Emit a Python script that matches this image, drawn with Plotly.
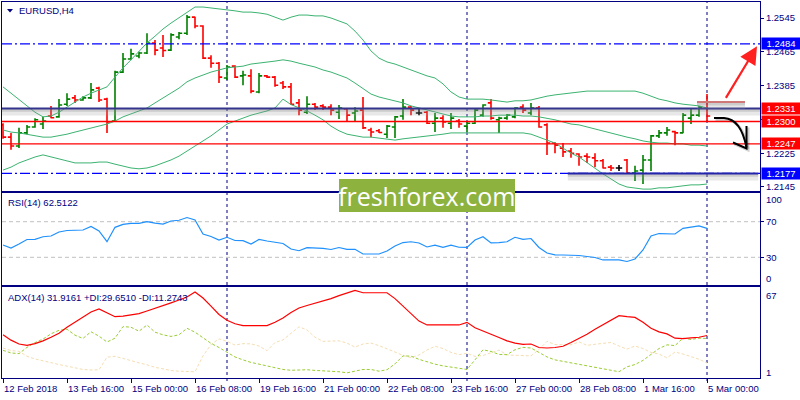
import plotly.graph_objects as go

# ---------------- data ----------------
symbol_title = "EURUSD,H4"
rsi_title = "RSI(14) 62.5122"
adx_title = "ADX(14) 31.9161 +DI:29.6510 -DI:11.2743"

time_labels = ["12 Feb 2018", "13 Feb 16:00", "15 Feb 00:00", "16 Feb 08:00",
               "19 Feb 16:00", "21 Feb 00:00", "22 Feb 08:00", "23 Feb 16:00",
               "27 Feb 00:00", "28 Feb 08:00", "1 Mar 16:00", "5 Mar 00:00"]
label_bars = [0, 8, 16, 24, 32, 40, 48, 56, 64, 72, 80, 88]
week_start_bars = [28, 58, 88]

open_ = [1.2292, 1.2263, 1.2242, 1.2273, 1.2287, 1.2294, 1.2313, 1.2311, 1.2341, 1.2356,
         1.2351, 1.2356, 1.2379, 1.2353, 1.2301, 1.2417, 1.2448, 1.2455, 1.2462, 1.2486,
         1.2474, 1.2469, 1.2500, 1.2509, 1.2547, 1.2526, 1.2450, 1.2438, 1.2403, 1.2431,
         1.2408, 1.2408, 1.2370, 1.2408, 1.2405, 1.2391, 1.2382, 1.2344, 1.2322, 1.2341,
         1.2337, 1.2334, 1.2322, 1.2330, 1.2320, 1.2327, 1.2280, 1.2278, 1.2270, 1.2287,
         1.2313, 1.2334, 1.2320, 1.2322, 1.2296, 1.2308, 1.2296, 1.2301, 1.2289, 1.2296,
         1.2315, 1.2344, 1.2304, 1.2308, 1.2311, 1.2334, 1.2320, 1.2332, 1.2292, 1.2249,
         1.2237, 1.2230, 1.2223, 1.2218, 1.2214, 1.2207, 1.2192, 1.2190, 1.2209, 1.2178,
         1.2185, 1.2209, 1.2266, 1.2273, 1.2276, 1.2273, 1.2308, 1.2315, 1.2332]
high = [1.2296, 1.2273, 1.2285, 1.2292, 1.2308, 1.2311, 1.2337, 1.2353, 1.2367, 1.2363,
        1.2360, 1.2391, 1.2382, 1.2356, 1.2420, 1.2462, 1.2472, 1.2465, 1.2509, 1.2493,
        1.2505, 1.2509, 1.2512, 1.2552, 1.2548, 1.2528, 1.2457, 1.2441, 1.2434, 1.2433,
        1.2420, 1.2424, 1.2415, 1.2410, 1.2408, 1.2396, 1.2391, 1.2353, 1.2360, 1.2344,
        1.2341, 1.2341, 1.2339, 1.2332, 1.2334, 1.2358, 1.2285, 1.2282, 1.2292, 1.2313,
        1.2353, 1.2337, 1.2330, 1.2325, 1.2320, 1.2315, 1.2320, 1.2306, 1.2301, 1.2330,
        1.2341, 1.2353, 1.2311, 1.2318, 1.2334, 1.2341, 1.2344, 1.2337, 1.2296, 1.2251,
        1.2249, 1.2237, 1.2225, 1.2225, 1.2225, 1.2211, 1.2197, 1.2197, 1.2211, 1.2195,
        1.2221, 1.2268, 1.2280, 1.2287, 1.2278, 1.2320, 1.2332, 1.2337, 1.2365]
low = [1.2259, 1.2233, 1.2237, 1.2270, 1.2285, 1.2282, 1.2308, 1.2309, 1.2337, 1.2344,
       1.2349, 1.2353, 1.2346, 1.2273, 1.2299, 1.2415, 1.2446, 1.2450, 1.2460, 1.2457,
       1.2453, 1.2467, 1.2495, 1.2505, 1.2521, 1.2448, 1.2427, 1.2391, 1.2398, 1.2403,
       1.2386, 1.2367, 1.2367, 1.2403, 1.2382, 1.2377, 1.2339, 1.2315, 1.2318, 1.2327,
       1.2327, 1.2315, 1.2306, 1.2299, 1.2299, 1.2282, 1.2263, 1.2273, 1.2261, 1.2261,
       1.2304, 1.2315, 1.2315, 1.2294, 1.2275, 1.2285, 1.2282, 1.2285, 1.2275, 1.2294,
       1.2311, 1.2304, 1.2273, 1.2304, 1.2308, 1.2320, 1.2315, 1.2285, 1.2221, 1.2225,
       1.2216, 1.2214, 1.2195, 1.2202, 1.2192, 1.2189, 1.2183, 1.2183, 1.2177, 1.2159,
       1.2152, 1.2183, 1.2261, 1.2266, 1.2244, 1.2272, 1.2294, 1.2311, 1.2299]
close = [1.2263, 1.2242, 1.2273, 1.2287, 1.2304, 1.2301, 1.2309, 1.2339, 1.2353, 1.2351,
         1.2356, 1.2375, 1.2351, 1.2299, 1.2417, 1.2448, 1.2460, 1.2462, 1.2486, 1.2469,
         1.2468, 1.2505, 1.2509, 1.2547, 1.2526, 1.2450, 1.2438, 1.2405, 1.2429, 1.2405,
         1.2410, 1.2372, 1.2408, 1.2405, 1.2386, 1.2382, 1.2341, 1.2327, 1.2341, 1.2334,
         1.2334, 1.2327, 1.2332, 1.2315, 1.2325, 1.2285, 1.2275, 1.2274, 1.2289, 1.2311,
         1.2334, 1.2327, 1.2320, 1.2296, 1.2308, 1.2299, 1.2308, 1.2294, 1.2296, 1.2327,
         1.2339, 1.2308, 1.2308, 1.2315, 1.2332, 1.2327, 1.2332, 1.2287, 1.2249, 1.2244,
         1.2228, 1.2225, 1.2216, 1.2216, 1.2207, 1.2190, 1.2190, 1.2190, 1.2178, 1.2183,
         1.2209, 1.2266, 1.2273, 1.2280, 1.2273, 1.2315, 1.2315, 1.2334, 1.2313]

bb_upper = [1.2382, 1.2367, 1.2353, 1.2339, 1.2322, 1.2311, 1.2313, 1.2322, 1.2334, 1.2346,
            1.2358, 1.2367, 1.2375, 1.2382, 1.2405, 1.2427, 1.2446, 1.2467, 1.2486, 1.2502,
            1.2519, 1.2533, 1.2545, 1.2557, 1.2571, 1.2571, 1.2569, 1.2566, 1.2564, 1.2562,
            1.2559, 1.2559, 1.2557, 1.2554, 1.2547, 1.2540, 1.2547, 1.2552, 1.2552, 1.2550,
            1.2550, 1.2545, 1.2538, 1.2531, 1.2514, 1.2493, 1.2467, 1.2450, 1.2441, 1.2436,
            1.2429, 1.2422, 1.2415, 1.2408, 1.2403, 1.2389, 1.2370, 1.2358, 1.2353, 1.2353,
            1.2353, 1.2351, 1.2349, 1.2346, 1.2349, 1.2349, 1.2351, 1.2356, 1.2360, 1.2363,
            1.2365, 1.2367, 1.2370, 1.2372, 1.2372, 1.2372, 1.2372, 1.2372, 1.2372, 1.2372,
            1.2367, 1.2360, 1.2353, 1.2349, 1.2344, 1.2341, 1.2339, 1.2337, 1.2332]
bb_middle = [1.2280, 1.2275, 1.2273, 1.2270, 1.2266, 1.2263, 1.2263, 1.2266, 1.2270, 1.2275,
             1.2280, 1.2285, 1.2289, 1.2294, 1.2301, 1.2311, 1.2318, 1.2325, 1.2332, 1.2344,
             1.2356, 1.2367, 1.2379, 1.2394, 1.2403, 1.2410, 1.2417, 1.2422, 1.2427, 1.2429,
             1.2431, 1.2436, 1.2438, 1.2441, 1.2443, 1.2446, 1.2443, 1.2438, 1.2434, 1.2429,
             1.2422, 1.2417, 1.2410, 1.2403, 1.2391, 1.2379, 1.2365, 1.2358, 1.2353, 1.2349,
             1.2344, 1.2337, 1.2332, 1.2327, 1.2322, 1.2318, 1.2313, 1.2311, 1.2311, 1.2311,
             1.2313, 1.2313, 1.2315, 1.2315, 1.2315, 1.2313, 1.2313, 1.2311, 1.2308, 1.2304,
             1.2299, 1.2294, 1.2292, 1.2287, 1.2282, 1.2278, 1.2273, 1.2268, 1.2263, 1.2259,
             1.2254, 1.2251, 1.2249, 1.2249, 1.2247, 1.2247, 1.2244, 1.2244, 1.2242]
bb_lower = [1.2185, 1.2192, 1.2202, 1.2209, 1.2216, 1.2221, 1.2216, 1.2211, 1.2207, 1.2202,
            1.2202, 1.2202, 1.2204, 1.2204, 1.2199, 1.2195, 1.2190, 1.2188, 1.2190, 1.2195,
            1.2202, 1.2209, 1.2218, 1.2230, 1.2240, 1.2254, 1.2266, 1.2280, 1.2294, 1.2301,
            1.2308, 1.2315, 1.2320, 1.2325, 1.2332, 1.2353, 1.2340, 1.2332, 1.2325, 1.2315,
            1.2304, 1.2289, 1.2278, 1.2270, 1.2266, 1.2263, 1.2263, 1.2261, 1.2259, 1.2256,
            1.2259, 1.2261, 1.2263, 1.2266, 1.2268, 1.2270, 1.2273, 1.2273, 1.2273, 1.2273,
            1.2273, 1.2273, 1.2273, 1.2273, 1.2273, 1.2273, 1.2270, 1.2263, 1.2256, 1.2249,
            1.2237, 1.2225, 1.2216, 1.2202, 1.2188, 1.2176, 1.2164, 1.2152, 1.2145, 1.2143,
            1.2140, 1.2140, 1.2143, 1.2143, 1.2145, 1.2147, 1.2150, 1.2150, 1.2152]

rsi = [43.8, 40.4, 44.9, 50.0, 50.2, 53.1, 53.9, 58.4, 60.1, 60.3,
       60.7, 64.6, 59.6, 47.5, 63.7, 66.9, 68.2, 68.2, 70.0, 68.5,
       67.4, 70.8, 71.6, 74.7, 71.9, 56.2, 53.4, 49.4, 52.5, 48.9,
       48.7, 44.9, 50.0, 48.3, 46.6, 45.5, 39.3, 37.4, 40.8, 40.4,
       40.1, 38.8, 41.0, 39.0, 39.0, 33.7, 33.7, 33.7, 37.1, 42.7,
       46.6, 47.5, 46.1, 41.6, 43.6, 41.2, 43.6, 41.3, 41.2, 49.4,
       53.1, 46.1, 46.4, 47.5, 52.5, 50.2, 51.1, 41.0, 34.8, 32.8,
       32.6, 32.6, 32.0, 30.9, 29.8, 27.0, 27.0, 27.0, 25.3, 28.1,
       38.2, 53.9, 56.7, 56.7, 56.2, 62.6, 64.0, 65.2, 62.5122]
adx = [32.4, 28.4, 25.5, 24.5, 25.8, 27.9, 30.6, 33.6, 38.1, 42.1,
       45.5, 49.6, 51.8, 49.2, 46.0, 46.5, 47.3, 48.3, 50.3, 52.2,
       54.4, 56.4, 58.5, 60.8, 64.6, 60.0, 54.0, 47.7, 43.3, 40.7,
       39.3, 39.3, 39.3, 39.3, 41.8, 45.1, 49.2, 52.5, 54.4, 56.2,
       57.6, 59.6, 61.8, 63.7, 65.7, 64.0, 64.0, 64.0, 64.0, 59.6,
       54.0, 48.1, 42.7, 39.8, 39.8, 39.8, 39.8, 39.8, 41.8, 37.7,
       35.3, 33.1, 30.4, 27.9, 26.2, 25.2, 25.5, 22.9, 22.5, 22.9,
       23.8, 26.7, 29.7, 32.9, 36.6, 39.9, 43.3, 46.8, 46.0, 45.5,
       41.8, 37.3, 34.6, 33.1, 29.9, 29.5, 30.1, 30.6, 31.9161]
plus_di = [20.8, 18.8, 18.3, 23.0, 26.6, 29.2, 33.2, 35.8, 36.6, 32.1,
           29.7, 34.7, 31.4, 27.0, 29.9, 38.6, 38.1, 35.1, 39.8, 34.4,
           32.4, 31.2, 32.4, 37.3, 34.4, 29.9, 26.0, 22.9, 19.5, 15.8,
           13.6, 11.7, 10.4, 8.9, 7.7, 6.4, 5.8, 6.0, 6.2, 5.7,
           5.4, 5.3, 4.7, 3.9, 5.4, 6.4, 6.4, 5.1, 6.2, 10.6,
           16.6, 16.4, 14.0, 12.1, 10.4, 9.1, 8.2, 7.3, 6.4, 13.6,
           21.2, 19.9, 17.7, 17.5, 21.2, 23.0, 22.5, 19.2, 15.8, 13.6,
           12.5, 11.4, 9.9, 8.8, 7.9, 6.8, 5.7, 4.7, 8.4, 10.1,
           13.2, 17.7, 22.1, 24.9, 24.3, 29.9, 28.9, 29.9, 29.6510]
minus_di = [22.5, 20.6, 20.0, 16.3, 14.3, 12.8, 11.4, 10.1, 8.9, 7.7,
            6.4, 6.0, 6.2, 15.6, 16.3, 14.7, 12.8, 11.4, 9.9, 8.0,
            6.9, 5.6, 5.1, 4.7, 4.7, 16.6, 25.1, 29.4, 27.5, 24.7,
            25.8, 25.6, 24.0, 20.5, 26.6, 28.6, 33.6, 38.4, 36.1, 30.6,
            27.5, 27.7, 27.9, 26.2, 23.2, 25.5, 26.2, 24.3, 22.1, 19.5,
            16.9, 15.3, 17.3, 21.0, 23.8, 22.1, 19.2, 17.5, 18.6, 16.2,
            16.9, 18.8, 21.0, 17.3, 16.9, 16.6, 16.6, 21.4, 27.5, 25.1,
            24.9, 24.9, 27.1, 24.5, 25.3, 26.2, 26.7, 24.0, 21.7, 24.0,
            22.1, 19.2, 18.0, 15.1, 19.5, 18.0, 16.2, 14.1, 11.2743]

price_ticks = [1.2145, 1.2225, 1.2305, 1.2385, 1.2465, 1.2545]
hidden_price_ticks = [1.2305]          # covered by the price tags in the original
rsi_levels = [30, 70]
blue_levels = [1.2484, 1.2177]
red_levels = [1.2300, 1.2247]
navy_level = 1.2331
tag_values = [1.2484, 1.2331, 1.2300, 1.2247, 1.2177]
tag_colors = ["#0000FF", "#FF0000", "#FF0000", "#FF0000", "#0000FF"]

# ---------------- styling / layout helpers ----------------
W, H = 800, 400
NAVY = "#000080"
FONT = "Liberation Sans"
FS = 9.5


def px(v):
    return v / W


def py(v):
    return 1 - v / H


X_DOM = [px(2), px(760)]
Y_MAIN = [py(191), py(2)]
Y_RSI = [py(285), py(193)]
Y_ADX = [py(378), py(287)]
XR = [-0.125, 94.625]
MAIN_R = [1.21355, 1.25829]
RSI_R = [-1.12, 102.25]
ADX_R = [0.0, 68.3]
PPP = (MAIN_R[1] - MAIN_R[0]) / 189.0  # price per pixel in the main pane

bars = list(range(len(open_)))
is_doji = [o == c for o, c in zip(open_, close)]


def pick(vals, keep):
    return [v if k else None for v, k in zip(vals, keep)]


fig = go.Figure()

for band in (bb_upper, bb_middle, bb_lower):
    fig.add_trace(go.Scatter(x=bars, y=band, mode="lines", hoverinfo="skip",
                             line=dict(color="#3CB371", width=1), xaxis="x", yaxis="y"))

keep = [not d for d in is_doji]
fig.add_trace(go.Ohlc(x=bars, open=pick(open_, keep), high=pick(high, keep),
                      low=pick(low, keep), close=pick(close, keep), tickwidth=0.4,
                      increasing=dict(line=dict(color="#008000", width=1.6)),
                      decreasing=dict(line=dict(color="#FF0000", width=1.6)),
                      xaxis="x", yaxis="y"))
fig.add_trace(go.Ohlc(x=bars, open=pick(open_, is_doji), high=pick(high, is_doji),
                      low=pick(low, is_doji), close=pick(close, is_doji), tickwidth=0.4,
                      increasing=dict(line=dict(color="#000000", width=1.6)),
                      decreasing=dict(line=dict(color="#000000", width=1.6)),
                      xaxis="x", yaxis="y"))

fig.add_trace(go.Scatter(x=bars, y=rsi, mode="lines", line=dict(color="#1E90FF", width=1.2),
                         xaxis="x2", yaxis="y2"))
fig.add_trace(go.Scatter(x=bars, y=minus_di, mode="lines",
                         line=dict(color="#F5DEB3", width=1, dash="3px,2px"), xaxis="x3", yaxis="y3"))
fig.add_trace(go.Scatter(x=bars, y=plus_di, mode="lines",
                         line=dict(color="#9ACD32", width=1, dash="3px,2px"), xaxis="x3", yaxis="y3"))
fig.add_trace(go.Scatter(x=bars, y=adx, mode="lines", line=dict(color="#FF0000", width=1.2),
                         xaxis="x3", yaxis="y3"))

shapes = []
# weekly period separators
for b in week_start_bars:
    shapes.append(dict(type="line", xref="x", yref="paper", x0=b, x1=b, y0=py(381), y1=py(2),
                       line=dict(color=NAVY, width=1, dash="3px,3px"), layer="below"))
# RSI levels
for lv in rsi_levels:
    shapes.append(dict(type="line", xref="x2 domain", yref="y2", x0=0, x1=1, y0=lv, y1=lv,
                       line=dict(color="#C0C0C0", width=1, dash="4px,3px"), layer="below"))
# blue dash-dot levels
for lv in blue_levels:
    shapes.append(dict(type="line", xref="x domain", yref="y", x0=0, x1=1, y0=lv, y1=lv,
                       line=dict(color="#0000FF", width=1.2, dash="10px,3px,2px,3px")))
# red levels
for lv in red_levels:
    shapes.append(dict(type="line", xref="x domain", yref="y", x0=0, x1=1, y0=lv, y1=lv,
                       line=dict(color="#FF0000", width=1.3)))


def shadowed(x0, x1, y, color, xref="x"):
    out = [dict(type="line", xref=xref, yref="y", x0=x0, x1=x1, y0=y - 3.5 * PPP, y1=y - 3.5 * PPP,
                line=dict(color="rgba(150,150,150,0.22)", width=7)),
           dict(type="line", xref=xref, yref="y", x0=x0, x1=x1, y0=y - 1.8 * PPP, y1=y - 1.8 * PPP,
                line=dict(color="rgba(120,120,120,0.25)", width=3)),
           dict(type="line", xref=xref, yref="y", x0=x0, x1=x1, y0=y, y1=y,
                line=dict(color=color, width=2))]
    return out


shapes += shadowed(0, 1, navy_level, "#34348C", xref="x domain")
shapes += shadowed(70.6, 94.4, blue_levels[1], "#2424A8")
shapes += shadowed(86.75, 92.75, 1.2346, "#D07878")

# title triangle
shapes.append(dict(type="path", xref="paper", yref="paper",
                   path=f"M {px(7)},{py(9)} L {px(13)},{py(9)} L {px(10)},{py(12.5)} Z",
                   fillcolor=NAVY, line=dict(width=0)))
# black curved arrow (hand drawing)
for off, col, wd in ((1.5, "rgba(0,0,0,0.18)", 3), (0, "#000000", 2)):
    shapes.append(dict(type="path", xref="paper", yref="paper",
                       path=(f"M {px(714 + off)},{py(118 + off)} L {px(724 + off)},{py(118 + off)} "
                             f"Q {px(741 + off)},{py(119 + off)} {px(746.5 + off)},{py(147.5 + off)}"),
                       line=dict(color=col, width=wd)))
    shapes.append(dict(type="path", xref="paper", yref="paper",
                       path=(f"M {px(733 + off)},{py(142.5 + off)} L {px(746.5 + off)},{py(148.5 + off)} "
                             f"L {px(746.5 + off)},{py(126 + off)}"),
                       line=dict(color=col, width=wd)))
# watermark box
shapes.append(dict(type="rect", xref="paper", yref="paper", x0=px(339), x1=px(515),
                   y0=py(212), y1=py(179), fillcolor="#8DB23E", line=dict(width=0), layer="above"))

ann = []
txt = dict(family=FONT, size=FS, color=NAVY)
ann.append(dict(xref="paper", yref="paper", x=px(17), y=py(10.5), xanchor="left", yanchor="middle",
                text=symbol_title, showarrow=False, font=txt))
ann.append(dict(xref="paper", yref="paper", x=px(6), y=py(202), xanchor="left", yanchor="middle",
                text=rsi_title, showarrow=False, font=txt))
ann.append(dict(xref="paper", yref="paper", x=px(6), y=py(297), xanchor="left", yanchor="middle",
                text=adx_title, showarrow=False, font=txt))
# indicator scale end labels
for t, yy in (("100", 199), ("0", 278), ("67", 295), ("1", 372.5)):
    ann.append(dict(xref="paper", yref="paper", x=px(764), y=py(yy), xanchor="left", yanchor="middle",
                    text=t, showarrow=False, font=txt))
# time labels
for b, t in zip(label_bars, time_labels):
    ann.append(dict(xref="x3", yref="paper", x=b, y=py(388.5), xanchor="left", yanchor="middle",
                    text=t, showarrow=False, font=txt, xshift=-1))
# price tags
for v, c in zip(tag_values, tag_colors):
    ann.append(dict(xref="paper", yref="y", x=px(761), y=v, xanchor="left", yanchor="middle",
                    text=f"{v:.4f}", showarrow=False, bgcolor=c, width=36, height=9, borderpad=1,
                    align="center", font=dict(family=FONT, size=FS, color="white")))
# red arrow
ann.append(dict(xref="x", yref="y", x=94.25, y=1.2478, ax=-32, ay=53, text="", showarrow=True,
                arrowhead=2, arrowsize=1.6, arrowwidth=2.2, arrowcolor="#FF2020", standoff=0))
# watermark text
ann.append(dict(xref="paper", yref="paper", x=px(427), y=py(195.5), xanchor="center", yanchor="middle",
                text="freshforex.com", showarrow=False,
                font=dict(family="Open Sans", size=25, color="white")))

axis_common = dict(showgrid=False, zeroline=False, showline=True, linecolor=NAVY,
                   linewidth=1, mirror=True)

fig.update_layout(
    width=W, height=H, margin=dict(l=0, r=0, t=0, b=0),
    paper_bgcolor="white", plot_bgcolor="white", showlegend=False,
    xaxis=dict(domain=X_DOM, range=XR, anchor="y", showticklabels=False, ticks="",
               rangeslider=dict(visible=False), **axis_common),
    xaxis2=dict(domain=X_DOM, range=XR, anchor="y2", showticklabels=False, ticks="",
                rangeslider=dict(visible=False), **axis_common),
    xaxis3=dict(domain=X_DOM, range=XR, anchor="y3", showticklabels=False, ticks="outside",
                tickvals=label_bars, ticklen=4, tickcolor=NAVY,
                rangeslider=dict(visible=False), **axis_common),
    yaxis=dict(domain=Y_MAIN, range=MAIN_R, anchor="x", side="right", tickvals=price_ticks,
               ticktext=["" if v in hidden_price_ticks else f"{v:.4f}" for v in price_ticks],
               ticks="outside", ticklen=3,
               tickcolor=NAVY, tickfont=txt, **axis_common),
    yaxis2=dict(domain=Y_RSI, range=RSI_R, anchor="x2", side="right", tickvals=rsi_levels,
                ticktext=[str(v) for v in rsi_levels], ticks="outside", ticklen=3,
                tickcolor=NAVY, tickfont=txt, **axis_common),
    yaxis3=dict(domain=Y_ADX, range=ADX_R, anchor="x3", side="right", tickvals=[],
                showticklabels=False, **axis_common),
    shapes=shapes, annotations=ann,
)

fig.write_html("out.html", config={"displayModeBar": False},
               post_script="document.body.style.margin='0px';"
                           "document.body.style.overflow='hidden';")
